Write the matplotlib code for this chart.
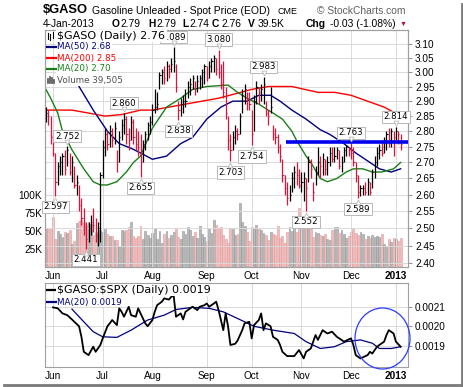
import numpy as np
import matplotlib
matplotlib.use('Agg')
import matplotlib.pyplot as plt
from matplotlib.patches import Ellipse
from matplotlib.lines import Line2D
from matplotlib.transforms import offset_copy

plt.rcParams['font.family'] = ['Liberation Sans', 'DejaVu Sans']

W, H = 464, 387

# daily bars, index 0 = 29-May-2012 ... 150 = 4-Jan-2013
high = [2.88, 2.87, 2.85, 2.79, 2.73, 2.70, 2.72, 2.73, 2.74, 2.752,
        2.73, 2.72, 2.69, 2.66, 2.63, 2.59, 2.56, 2.52, 2.52, 2.54,
        2.56, 2.53, 2.52, 2.67, 2.77, 2.81, 2.80, 2.82, 2.81, 2.83,
        2.74, 2.80, 2.84, 2.860, 2.85, 2.81, 2.85, 2.84, 2.81, 2.80,
        2.79, 2.77, 2.80, 2.83, 2.85, 2.89, 2.94, 2.93, 3.00, 3.01,
        3.02, 3.04, 3.03, 3.05, 3.089, 3.03, 2.90, 2.91, 2.92, 2.94,
        2.97, 2.98, 2.99, 2.97, 2.99, 2.99, 3.01, 3.03, 3.02, 3.04,
        3.05, 3.06, 3.05, 3.080, 3.03, 3.04, 2.95, 2.85, 2.79, 2.80,
        2.82, 2.81, 2.86, 2.94, 2.96, 2.93, 2.93, 2.87, 2.92, 2.97,
        2.95, 2.96, 2.983, 2.90, 2.87, 2.95, 2.82, 2.81, 2.79, 2.76,
        2.71, 2.66, 2.64, 2.63, 2.67, 2.69, 2.70, 2.68, 2.67, 2.67,
        2.65, 2.72, 2.71, 2.64, 2.69, 2.75, 2.72, 2.73, 2.71, 2.72,
        2.75, 2.75, 2.75, 2.75, 2.74, 2.72, 2.75, 2.755, 2.75, 2.763,
        2.75, 2.70, 2.66, 2.63, 2.63, 2.64, 2.65, 2.64, 2.68, 2.72,
        2.75, 2.76, 2.77, 2.78, 2.80, 2.81, 2.81, 2.80, 2.814, 2.80, 2.79]
low = [2.83, 2.82, 2.76, 2.72, 2.597, 2.63, 2.66, 2.66, 2.66, 2.69,
       2.66, 2.64, 2.62, 2.60, 2.55, 2.51, 2.48, 2.441, 2.46, 2.48,
       2.49, 2.46, 2.45, 2.46, 2.65, 2.72, 2.74, 2.75, 2.75, 2.76,
       2.67, 2.70, 2.77, 2.79, 2.76, 2.74, 2.77, 2.76, 2.74, 2.72,
       2.655, 2.70, 2.74, 2.77, 2.79, 2.82, 2.86, 2.87, 2.94, 2.96,
       2.96, 2.97, 2.98, 3.00, 3.00, 2.93, 2.838, 2.85, 2.86, 2.88,
       2.91, 2.92, 2.94, 2.92, 2.93, 2.94, 2.95, 2.96, 2.97, 2.98,
       3.00, 3.00, 2.99, 2.98, 2.94, 2.91, 2.84, 2.74, 2.703, 2.74,
       2.76, 2.77, 2.79, 2.86, 2.89, 2.87, 2.87, 2.754, 2.80, 2.89,
       2.89, 2.90, 2.89, 2.85, 2.82, 2.86, 2.77, 2.76, 2.73, 2.70,
       2.64, 2.60, 2.57, 2.58, 2.61, 2.62, 2.63, 2.62, 2.61, 2.58,
       2.552, 2.64, 2.65, 2.58, 2.63, 2.66, 2.65, 2.66, 2.66, 2.66,
       2.69, 2.70, 2.70, 2.71, 2.68, 2.67, 2.70, 2.72, 2.72, 2.71,
       2.69, 2.64, 2.589, 2.595, 2.60, 2.60, 2.60, 2.60, 2.62, 2.65,
       2.69, 2.71, 2.72, 2.73, 2.74, 2.75, 2.75, 2.72, 2.77, 2.76, 2.74]
close = [2.86, 2.85, 2.78, 2.73, 2.64, 2.69, 2.70, 2.72, 2.68, 2.74,
         2.67, 2.70, 2.63, 2.64, 2.57, 2.53, 2.50, 2.47, 2.50, 2.52,
         2.51, 2.48, 2.50, 2.66, 2.75, 2.79, 2.76, 2.80, 2.77, 2.81,
         2.70, 2.78, 2.82, 2.84, 2.79, 2.77, 2.83, 2.78, 2.76, 2.75,
         2.70, 2.76, 2.79, 2.82, 2.83, 2.87, 2.88, 2.89, 2.99, 3.00,
         2.98, 3.02, 3.01, 3.03, 3.04, 2.95, 2.87, 2.89, 2.90, 2.90,
         2.95, 2.96, 2.98, 2.94, 2.97, 2.98, 3.00, 3.02, 2.98, 3.02,
         3.04, 3.05, 3.01, 3.00, 2.96, 2.93, 2.86, 2.77, 2.74, 2.78,
         2.80, 2.79, 2.85, 2.92, 2.94, 2.91, 2.89, 2.79, 2.90, 2.95,
         2.93, 2.94, 2.96, 2.86, 2.85, 2.88, 2.79, 2.78, 2.75, 2.72,
         2.66, 2.62, 2.59, 2.60, 2.65, 2.67, 2.66, 2.63, 2.64, 2.65,
         2.62, 2.70, 2.68, 2.61, 2.67, 2.70, 2.69, 2.71, 2.68, 2.70,
         2.73, 2.71, 2.72, 2.74, 2.69, 2.70, 2.74, 2.75, 2.74, 2.73,
         2.70, 2.66, 2.61, 2.62, 2.62, 2.61, 2.64, 2.61, 2.67, 2.70,
         2.73, 2.74, 2.73, 2.77, 2.79, 2.77, 2.80, 2.78, 2.80, 2.79, 2.76]
volume_k = [54, 52, 53, 69, 38, 50, 45, 41, 48, 47, 51, 32, 36, 61, 64, 65, 62, 58, 63, 60, 44, 48, 46, 51,
            49, 52, 46, 42, 42, 37, 37, 27, 51, 50, 51, 55, 63, 43, 40, 42, 57, 38, 50, 44, 40,
            47, 52, 38, 50, 33, 45, 50, 40, 44, 49, 54, 41, 38, 50, 45, 55, 51, 42, 48, 40, 57, 46, 41,
            36, 53, 47, 65, 58, 54, 56, 44, 38, 33, 54, 52, 44, 45, 89, 62, 57, 48, 36,
            55, 52, 58, 54, 51, 47, 44, 37, 49, 45, 44, 57, 40, 43, 33, 49, 55, 50, 64, 48, 82,
            60, 53, 52, 55, 54, 41, 49, 47, 44, 42, 46, 38, 37, 51, 56, 55, 47, 51, 46, 40, 42,
            49, 52, 47, 44, 48, 46, 38, 42, 40, 44, 41, 43, 41, 46, 32, 28, 38, 34, 40,
            39, 36, 39.5]

# moving averages (index, value)
ma20_idx = [0, 2, 5, 7, 11, 16, 20, 23, 26, 30, 34, 37, 40, 45, 51, 57, 62, 68, 77, 81, 85, 90, 96,
            100, 104, 106, 110, 112, 116, 119, 123, 127, 130, 134, 138, 142, 147, 150]
ma20_val = [2.94, 2.91, 2.86, 2.80, 2.74, 2.68, 2.64, 2.63, 2.63, 2.64, 2.67, 2.70, 2.72, 2.81, 2.88,
            2.91, 2.94, 2.95, 2.955, 2.93, 2.91, 2.89, 2.86, 2.84, 2.80, 2.77, 2.72, 2.70, 2.65, 2.64,
            2.65, 2.67, 2.68, 2.68, 2.67, 2.67, 2.68, 2.70]
ma50_idx = [8, 11, 14, 20, 26, 31, 36, 40, 45, 51, 57, 62, 68, 74, 79, 85, 90, 95, 99, 104, 110, 116,
            120, 126, 131, 137, 141, 146, 150]
ma50_val = [3.06, 3.00, 2.95, 2.87, 2.80, 2.76, 2.745, 2.73, 2.71, 2.72, 2.76, 2.78, 2.84, 2.88, 2.90,
            2.90, 2.92, 2.92, 2.90, 2.87, 2.84, 2.805, 2.79, 2.76, 2.73, 2.70, 2.68, 2.67, 2.68]
ma200_idx = [0, 11, 18, 25, 32, 40, 45, 59, 73, 87, 94, 104, 115, 122, 129, 136, 143, 150]
ma200_val = [2.87, 2.87, 2.86, 2.85, 2.855, 2.87, 2.87, 2.89, 2.91, 2.94, 2.95, 2.95, 2.93, 2.93, 2.92,
             2.90, 2.88, 2.85]

# $GASO:$SPX ratio (x1e-3)
ratio_idx = [3, 5, 7, 9, 11, 12, 14, 15, 16, 18, 20, 21, 23, 24, 26, 27, 28, 30, 31, 32, 33, 35, 36,
             38, 39, 40, 42, 43, 45, 46, 47, 49, 50, 52, 53, 54, 55, 57, 58, 59, 61, 62, 64, 65, 67,
             68, 69, 71, 72, 73, 75, 76, 77, 78, 80, 81, 83, 84, 86, 87, 88, 90, 91, 92, 93, 95, 96,
             98, 99, 100, 102, 105, 107, 109, 110, 112, 114, 115, 117, 119, 121, 123, 125, 126, 129,
             130, 131, 133, 136, 137, 138, 140, 141, 143, 144, 145, 147, 148, 150]
ratio_val = [2.097, 2.092, 2.066, 2.057, 2.035, 2.023, 2.000, 1.946, 1.869, 1.852, 1.895, 1.869,
             1.904, 1.938, 2.000, 2.015, 2.032, 2.006, 2.092, 2.074, 2.049, 2.100, 2.057, 2.049,
             2.092, 2.066, 2.015, 2.000, 2.032, 2.074, 2.108, 2.126, 2.143, 2.137, 2.151, 2.158,
             2.049, 2.066, 2.035, 2.074, 2.092, 2.100, 2.083, 2.100, 2.108, 2.117, 2.100, 2.117,
             2.126, 2.083, 1.980, 2.066, 2.000, 1.904, 1.910, 1.926, 1.980, 2.015, 2.023, 1.938,
             2.006, 2.032, 2.066, 1.980, 2.015, 2.000, 1.946, 1.930, 1.904, 1.869, 1.847, 1.847,
             1.878, 1.835, 1.869, 1.886, 1.955, 1.930, 1.980, 1.963, 1.972, 1.946, 1.930, 1.921,
             1.938, 1.904, 1.852, 1.835, 1.852, 1.869, 1.860, 1.895, 1.904, 1.921, 1.955, 1.980,
             1.963, 1.921, 1.895]
ratio_ma_idx = [11, 16, 20, 24, 30, 36, 43, 50, 55, 62, 69, 75, 81, 88, 96, 105, 110, 116, 122, 127,
                133, 138, 141, 146, 150]
ratio_ma_val = [2.088, 2.023, 1.972, 1.946, 1.943, 1.980, 2.032, 2.057, 2.086, 2.097, 2.092, 2.074,
                2.040, 2.000, 1.980, 1.963, 1.921, 1.886, 1.895, 1.921, 1.930, 1.913, 1.886, 1.886,
                1.895]

month_pos = [3, 24, 45, 68, 87, 108, 129, 148]
month_lab = ['Jun', 'Jul', 'Aug', 'Sep', 'Oct', 'Nov', 'Dec', '2013']

peaks = [9, 33, 54, 73, 92, 129, 148]
troughs = [4, 17, 40, 56, 78, 87, 110, 132]

price_ticks = [2.40, 2.45, 2.50, 2.55, 2.60, 2.65, 2.70, 2.75, 2.80, 2.85, 2.90, 2.95, 3.00, 3.05, 3.10]
vol_ticks = [25, 50, 75, 100]
ratio_ticks = [1.9, 2.0, 2.1]

resist_level = 2.765
resist_start = 101.5


def fx(px):
    return px / W


def fy(py):
    return 1 - py / H


fig = plt.figure(figsize=(W / 100, H / 100), dpi=100)
fig.patch.set_facecolor('white')

GRID = '#dadada'
FRAME = '#a0a0a0'
RED = '#dc143c'

# ---- main panel ----
ax_vol = fig.add_axes([fx(45), fy(267), fx(408) - fx(45), fy(30) - fy(267)])
ax = ax_vol.twinx()

idx = np.arange(len(close))
up = [True] + [close[k] >= close[k - 1] for k in range(1, len(close))]
bar_col = ['black' if u else RED for u in up]
vol_col = ['#b8b8b8' if u else '#f0bcbc' for u in up]
vol_edge = ['#959595' if u else '#e39a9a' for u in up]

ax_vol.bar(idx, volume_k, width=0.8, color=vol_col, edgecolor=vol_edge, linewidth=0.4)
ax_vol.set_ylim(-1, 333)
ax_vol.set_yticks(vol_ticks)
ax_vol.set_yticklabels([f'{v}K' for v in vol_ticks], fontsize=7.2)
ax_vol.tick_params(axis='y', length=0, pad=2)

ax.set_yscale('log')
ax.set_ylim(2.390, 3.151)
ax.set_xlim(-0.4, 153.1)
ax.yaxis.set_major_locator(matplotlib.ticker.FixedLocator(price_ticks))
ax.yaxis.set_minor_locator(matplotlib.ticker.NullLocator())
ax.set_yticklabels([f'{p:.2f}' for p in price_ticks], fontsize=7.2)
ax.tick_params(axis='y', length=3, width=0.6, color='#808080', pad=2)
for p in price_ticks:
    ax.axhline(p, color=GRID, lw=0.7, zorder=0)
for m in month_pos:
    ax.axvline(m, color=GRID, lw=0.7, zorder=0)

ax.plot(ma200_idx, ma200_val, color='#ff0000', lw=1.0, zorder=2)
ax.plot(ma50_idx, ma50_val, color='#000080', lw=1.0, zorder=2)
ax.plot(ma20_idx, ma20_val, color='#1a7f1a', lw=1.0, zorder=2)

ax.vlines(idx, low, high, colors=bar_col, lw=0.9, zorder=3)
ax.hlines(close, idx, idx + 0.5, colors=bar_col, lw=0.8, zorder=3)

ax.hlines(resist_level, resist_start, 153.1, colors='#0000ee', lw=2.6, zorder=4)

box = dict(boxstyle='square,pad=0.18', fc='white', ec='#b8b8b8', lw=0.7)
for k in peaks:
    ax.annotate(f'{high[k]:.3f}', (k, high[k]), xytext=(0, 10), textcoords='offset pixels',
                ha='center', va='center', fontsize=6.2, family='DejaVu Sans', bbox=box, zorder=5,
                annotation_clip=False)
    tr = offset_copy(ax.transData, fig=fig, x=0, y=4, units='dots')
    ax.plot(k, high[k], marker='v', ms=3.5, mfc='white', mec='#b8b8b8', mew=0.6, transform=tr, zorder=5)
for k in troughs:
    ax.annotate(f'{low[k]:.3f}', (k, low[k]), xytext=(0, -11), textcoords='offset pixels',
                ha='center', va='center', fontsize=6.2, family='DejaVu Sans', bbox=box, zorder=5,
                annotation_clip=False)
    tr = offset_copy(ax.transData, fig=fig, x=0, y=-4, units='dots')
    ax.plot(k, low[k], marker='^', ms=3.5, mfc='white', mec='#b8b8b8', mew=0.6, transform=tr, zorder=5)

ax_vol.set_xticks(month_pos)
ax_vol.set_xticklabels(month_lab, fontsize=7.2)
ax_vol.get_xticklabels()[-1].set_fontweight('bold')
ax_vol.tick_params(axis='x', length=0, pad=3)
ax.tick_params(axis='x', length=0)
for a in (ax, ax_vol):
    for s in a.spines.values():
        s.set_color(FRAME)
        s.set_linewidth(0.8)

# legend of main panel
lg = [('$GASO (Daily) 2.76', 'black', 8.0, 36),
      ('MA(50) 2.68', '#000080', 6.3, 47),
      ('MA(200) 2.85', '#ff0000', 6.3, 58),
      ('MA(20) 2.70', '#1a7f1a', 6.3, 69),
      ('Volume 39,505', '#505050', 6.3, 80)]
for txt, col, fs, py in lg:
    fig.text(fx(57.5), fy(py), txt, color=col, fontsize=fs, family='DejaVu Sans', va='center',
             bbox=dict(boxstyle='square,pad=0.12', fc='white', ec='none'), zorder=10)
for txt, col, fs, py in lg[1:4]:
    fig.add_artist(Line2D([fx(47), fx(56)], [fy(py), fy(py)], color=col, lw=1.6, zorder=11))
# bar icons
for x0, y0, y1 in [(48, 33, 39), (50.5, 34, 40), (53, 32, 38)]:
    fig.add_artist(Line2D([fx(x0), fx(x0)], [fy(y0), fy(y1)], color='black', lw=0.8, zorder=11))
for x0, h in [(48, 4), (50, 6), (52, 5), (54, 3)]:
    fig.add_artist(Line2D([fx(x0), fx(x0)], [fy(83), fy(83 - h)], color='#505050', lw=1.2, zorder=11))

# ---- ratio panel ----
axr = fig.add_axes([fx(45), fy(367), fx(408) - fx(45), fy(283) - fy(367)])
axr.set_xlim(-0.4, 153.1)
axr.set_ylim(1.791, 2.222)
for m in month_pos:
    axr.axvline(m, color=GRID, lw=0.7, zorder=0)
for r in ratio_ticks:
    axr.axhline(r, color=GRID, lw=0.7, zorder=0)
axr.plot(ratio_ma_idx, ratio_ma_val, color='#000080', lw=0.9, zorder=2)
axr.plot(ratio_idx, ratio_val, color='black', lw=1.3, zorder=3)
axr.yaxis.tick_right()
axr.set_yticks(ratio_ticks)
axr.set_yticklabels([f'{r / 1000:.4f}' for r in ratio_ticks], fontsize=7.2)
axr.tick_params(axis='y', length=3, width=0.6, color='#808080', pad=2)
axr.set_xticks(month_pos)
axr.set_xticklabels(month_lab, fontsize=7.2)
axr.get_xticklabels()[-1].set_fontweight('bold')
axr.tick_params(axis='x', length=0, pad=3)
for s in axr.spines.values():
    s.set_color(FRAME)
    s.set_linewidth(0.8)

fig.text(fx(57.5), fy(290), r'\$GASO:\$SPX (Daily) 0.0019', color='black', fontsize=8.0,
         family='DejaVu Sans', va='center', bbox=dict(boxstyle='square,pad=0.1', fc='white', ec='none'))
fig.text(fx(57.5), fy(302), 'MA(20) 0.0019', color='#000080', fontsize=6.3,
         family='DejaVu Sans', va='center', bbox=dict(boxstyle='square,pad=0.1', fc='white', ec='none'))
fig.add_artist(Line2D([fx(47), fx(56)], [fy(290), fy(290)], color='black', lw=1.6))
fig.add_artist(Line2D([fx(47), fx(56)], [fy(302), fy(302)], color='#000080', lw=1.6))

fig.add_artist(Ellipse((fx(382.5), fy(338.5)), 55 / W, 61 / H, fill=False, ec='#2a3cff', lw=0.9))

# ---- header ----
fig.text(fx(43), fy(10), '$GASO', fontsize=9.3, fontweight='bold', va='center')
fig.text(fx(92), fy(10.5), 'Gasoline Unleaded - Spot Price (EOD)', fontsize=7.5, va='center')
fig.text(fx(278), fy(11), 'CME', fontsize=6.4, va='center')
fig.text(fx(317), fy(10.5), '\u00a9 StockCharts.com', fontsize=7.4, color='#606060', va='center')
row2 = [(43, '4-Jan-2013', 'normal'), (112, 'O', 'bold'), (121, '2.79', 'normal'),
        (148, 'H', 'bold'), (157, '2.79', 'normal'), (182, 'L', 'bold'), (190, '2.74', 'normal'),
        (212, 'C', 'bold'), (222, '2.76', 'normal'), (248, 'V', 'bold'), (258, '39.5K', 'normal'),
        (306, 'Chg', 'bold'), (330, '-0.03 (-1.08%)', 'normal')]
for px, t, w in row2:
    fig.text(fx(px), fy(24), t, fontsize=7.4, fontweight=w, va='center')
fig.text(fx(400), fy(24.5), '\u25bc', fontsize=5, color='#b0103a', va='center')

# page shadow
fig.add_artist(Line2D([fx(462), fx(462)], [fy(4), fy(386)], color='#7a7a7a', lw=2))
fig.add_artist(Line2D([fx(4), fx(462)], [fy(384.5), fy(384.5)], color='#7a7a7a', lw=2))

fig.savefig('out.png', dpi=100)
